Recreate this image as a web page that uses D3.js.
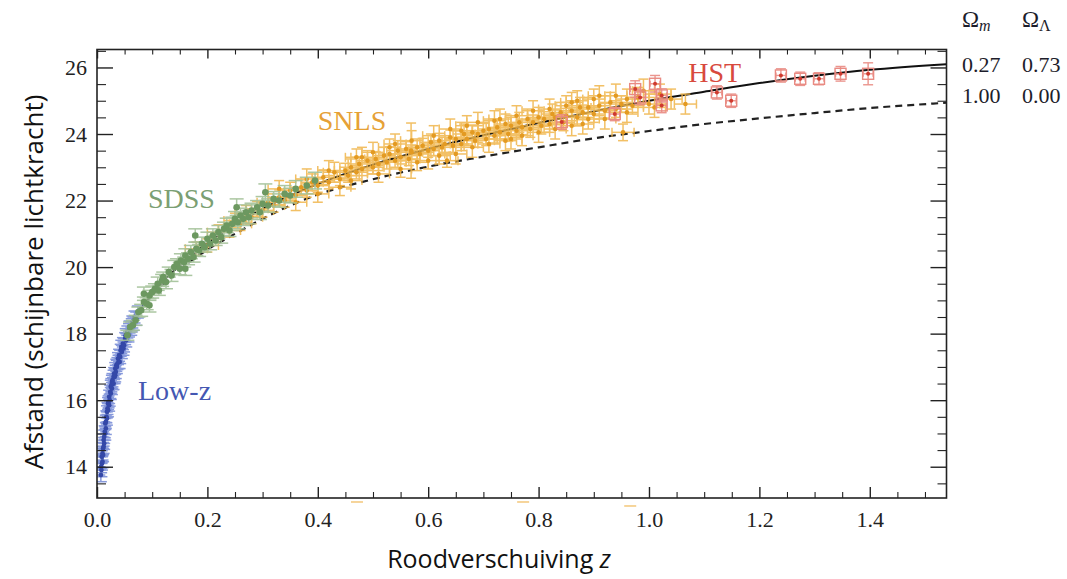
<!DOCTYPE html>
<html><head><meta charset="utf-8">
<script src="https://cdn.jsdelivr.net/npm/d3@7"></script>
<style>body{margin:0;background:#fff} svg{display:block}</style>
</head><body><svg id="c" width="1067" height="579"></svg>
<script>
// ---------- data: [redshift z, apparent magnitude, magnitude error] ----------
const lowZ = [
[0.007,13.75,0.2],[0.0075,14.0,0.18],[0.008,13.9,0.2],[0.0085,14.3,0.18],[0.009,14.1,0.2],[0.010,14.15,0.18],[0.010,14.4,0.2],[0.011,14.55,0.18],[0.011,14.35,0.2],[0.012,14.6,0.2],[0.012,14.8,0.18],[0.013,14.9,0.2],[0.013,14.7,0.18],[0.014,15.05,0.18],[0.015,15.0,0.2],[0.015,15.3,0.18],[0.016,15.35,0.2],[0.016,15.15,0.18],[0.017,15.5,0.18],[0.018,15.45,0.2],[0.018,15.65,0.18],[0.019,15.75,0.18],[0.020,15.7,0.2],[0.020,15.9,0.18],[0.021,15.95,0.18],[0.022,16.1,0.2],[0.022,15.85,0.18],[0.023,16.0,0.18],[0.024,16.25,0.2],[0.025,16.2,0.18],[0.025,16.4,0.2],[0.026,16.45,0.2],[0.027,16.35,0.18],[0.027,16.55,0.2],[0.028,16.6,0.2],[0.029,16.5,0.18],[0.030,16.7,0.2],[0.030,16.5,0.18],[0.031,16.8,0.18],[0.032,16.7,0.2],[0.033,16.95,0.18],[0.033,16.75,0.2],[0.034,16.85,0.2],[0.035,17.05,0.18],[0.036,17.0,0.2],[0.037,17.1,0.18],[0.038,17.25,0.18],[0.039,17.15,0.2],[0.040,17.35,0.18],[0.041,17.15,0.2],[0.042,17.3,0.2],[0.043,17.5,0.18],[0.044,17.6,0.2],[0.045,17.45,0.2],[0.047,17.7,0.18],[0.048,17.55,0.2],[0.049,17.65,0.2],[0.051,17.85,0.18],[0.052,17.95,0.2],[0.053,17.8,0.2],[0.055,18.05,0.18],[0.057,17.95,0.2],[0.058,18.1,0.2],[0.059,18.2,0.18],[0.062,18.15,0.2],[0.063,18.25,0.2],[0.064,18.35,0.18],[0.066,18.3,0.2],[0.068,18.5,0.18],[0.071,18.45,0.2],[0.074,18.65,0.18]
];
const sdss = [
[0.055,17.95,0.15],[0.06,18.2,0.15],[0.065,18.25,0.15],[0.07,18.4,0.15],[0.075,18.65,0.15],[0.08,18.7,0.18],[0.085,18.95,0.15],[0.085,19.2,0.2],[0.09,18.9,0.18],[0.095,19.15,0.15],[0.095,18.85,0.2],[0.1,19.25,0.18],[0.105,19.35,0.15],[0.11,19.5,0.2],[0.112,19.3,0.15],[0.118,19.6,0.18],[0.12,19.7,0.15],[0.125,19.55,0.2],[0.13,19.85,0.15],[0.135,19.75,0.18],[0.14,20.0,0.2],[0.145,20.1,0.15],[0.15,19.95,0.18],[0.152,20.2,0.2],[0.158,20.15,0.15],[0.16,20.35,0.2],[0.16,19.95,0.2],[0.165,20.25,0.18],[0.17,20.45,0.2],[0.175,20.3,0.15],[0.178,20.95,0.2],[0.18,20.55,0.2],[0.185,20.5,0.18],[0.19,20.7,0.2],[0.195,20.6,0.15],[0.2,20.85,0.2],[0.205,20.7,0.18],[0.21,20.95,0.2],[0.215,20.8,0.15],[0.22,21.05,0.2],[0.225,20.9,0.18],[0.23,21.15,0.2],[0.235,21.25,0.22],[0.24,21.1,0.18],[0.245,21.3,0.2],[0.25,21.45,0.22],[0.253,21.8,0.25],[0.255,21.35,0.2],[0.26,21.55,0.22],[0.265,21.45,0.2],[0.27,21.65,0.22],[0.275,21.5,0.2],[0.28,21.7,0.22],[0.29,21.8,0.2],[0.295,21.65,0.22],[0.3,21.9,0.22],[0.305,22.25,0.25],[0.31,21.85,0.2],[0.32,22.05,0.22],[0.33,22.0,0.2],[0.34,22.2,0.25],[0.35,22.15,0.22],[0.36,22.35,0.25],[0.38,22.45,0.25],[0.395,22.6,0.25]
];
const snls = [
[0.18,20.55,0.2],[0.2,20.65,0.2],[0.22,21.05,0.22],[0.24,21.1,0.2],[0.25,21.4,0.22],[0.26,21.3,0.2],[0.27,21.6,0.25],[0.28,21.5,0.2],[0.29,21.75,0.22],[0.3,21.7,0.2],[0.31,21.95,0.25],[0.32,21.85,0.2],[0.33,22.1,0.22],[0.33,22.35,0.25],[0.34,22.0,0.2],[0.35,22.3,0.25],[0.36,22.15,0.2],[0.36,21.95,0.25],[0.37,22.4,0.22],[0.38,22.3,0.2],[0.38,22.65,0.3],[0.39,22.55,0.25],[0.40,22.45,0.2],[0.40,22.2,0.25],[0.41,22.7,0.22],[0.42,22.55,0.2],[0.42,22.9,0.3],[0.43,22.85,0.3],[0.44,22.65,0.2],[0.44,22.4,0.25],[0.45,22.9,0.22],[0.455,22.75,0.2],[0.46,23.0,0.25],[0.46,22.6,0.25],[0.47,22.85,0.2],[0.47,23.3,0.25],[0.475,23.1,0.22],[0.48,22.95,0.2],[0.48,23.3,0.3],[0.49,23.2,0.3],[0.5,23.0,0.2],[0.5,23.45,0.3],[0.505,23.25,0.22],[0.51,23.1,0.2],[0.51,22.8,0.25],[0.52,23.35,0.25],[0.525,23.15,0.2],[0.53,23.4,0.22],[0.53,23.6,0.25],[0.54,23.2,0.2],[0.54,23.7,0.3],[0.545,23.5,0.3],[0.55,23.3,0.2],[0.55,22.95,0.25],[0.56,23.55,0.22],[0.565,23.25,0.2],[0.569,23.5,0.83],[0.57,23.45,0.22],[0.57,23.8,0.3],[0.58,23.6,0.25],[0.58,23.15,0.25],[0.585,23.4,0.2],[0.59,23.65,0.22],[0.6,23.5,0.2],[0.6,23.2,0.25],[0.605,23.75,0.25],[0.61,23.55,0.2],[0.61,23.95,0.3],[0.62,23.8,0.22],[0.62,23.35,0.25],[0.625,23.6,0.2],[0.63,23.7,0.25],[0.634,23.2,0.2],[0.64,23.9,0.22],[0.64,24.15,0.3],[0.645,23.65,0.2],[0.65,23.85,0.25],[0.65,23.4,0.3],[0.66,23.7,0.2],[0.66,24.1,0.25],[0.665,24.0,0.3],[0.67,23.85,0.2],[0.67,24.25,0.3],[0.68,24.05,0.22],[0.68,23.6,0.3],[0.685,23.8,0.2],[0.69,24.0,0.25],[0.69,24.35,0.3],[0.7,24.1,0.22],[0.705,23.85,0.2],[0.71,24.15,0.3],[0.71,23.7,0.25],[0.72,23.95,0.22],[0.72,24.4,0.3],[0.725,24.2,0.25],[0.73,24.05,0.2],[0.73,24.45,0.3],[0.74,24.3,0.3],[0.74,23.8,0.3],[0.745,24.0,0.22],[0.75,24.25,0.25],[0.75,23.85,0.3],[0.76,24.1,0.2],[0.76,24.55,0.3],[0.765,24.35,0.3],[0.77,24.2,0.22],[0.77,23.95,0.3],[0.78,24.45,0.3],[0.785,24.15,0.25],[0.79,24.35,0.22],[0.79,24.7,0.3],[0.8,24.5,0.3],[0.8,24.05,0.3],[0.805,24.25,0.25],[0.81,24.45,0.22],[0.82,24.3,0.25],[0.82,24.75,0.3],[0.825,24.6,0.3],[0.83,24.5,0.22],[0.83,24.15,0.3],[0.84,24.65,0.3],[0.845,24.35,0.25],[0.85,24.55,0.22],[0.85,24.85,0.3],[0.86,24.7,0.3],[0.86,24.95,0.3],[0.86,24.25,0.3],[0.87,24.5,0.25],[0.87,25.0,0.3],[0.875,24.8,0.3],[0.88,24.65,0.22],[0.88,24.3,0.3],[0.89,24.8,0.3],[0.89,24.45,0.3],[0.9,24.6,0.25],[0.9,25.05,0.3],[0.91,24.85,0.3],[0.91,25.15,0.3],[0.92,24.7,0.22],[0.92,24.45,0.3],[0.93,24.95,0.3],[0.94,24.75,0.25],[0.94,25.15,0.35],[0.95,24.9,0.25],[0.953,24.05,0.25],[0.96,25.05,0.3],[0.96,24.65,0.3],[0.97,24.85,0.25],[0.98,25.1,0.3],[0.99,25.3,0.35],[1.0,24.9,0.3],[1.01,24.8,0.3],[1.02,25.2,0.3],[1.04,25.05,0.3],[1.066,24.9,0.3]
];
const hst = [
[0.842,24.36,0.22],[0.938,24.6,0.2],[0.975,25.35,0.25],[0.984,25.1,0.22],[1.011,25.51,0.25],[1.023,25.16,0.2],[1.023,24.86,0.22],[1.123,25.25,0.2],[1.149,25.0,0.2],[1.239,25.76,0.2],[1.274,25.66,0.2],[1.308,25.66,0.18],[1.347,25.81,0.22],[1.397,25.81,0.33]
];
// stray error-bar caps just below the axis
const strayCaps = [[0.471,12.94],[0.772,12.94],[0.966,12.82]];
// model curves
const lcdmZ = [0.007,0.015,0.025,0.04,0.06,0.08,0.1,0.15,0.2,0.25,0.3,0.4,0.5,0.6,0.7,0.8,0.9,1.0,1.1,1.2,1.3,1.4,1.539];
const lcdmM = [13.7,15.1,16.2,17.2,18.1,18.75,19.22,20.05,20.72,21.28,21.75,22.5,23.08,23.55,23.96,24.33,24.68,25.0,25.27,25.53,25.75,25.93,26.1];
const edsZ = [0.007,0.015,0.025,0.04,0.06,0.08,0.1,0.15,0.2,0.25,0.3,0.364,0.4,0.5,0.6,0.7,0.8,0.9,1.0,1.1,1.2,1.3,1.4,1.539];
const edsM = [13.7,15.1,16.2,17.18,18.05,18.7,19.15,19.93,20.52,21.0,21.45,21.95,22.18,22.64,23.02,23.32,23.6,23.87,24.09,24.3,24.47,24.63,24.78,24.94];
const xTicks = [0.0,0.2,0.4,0.6,0.8,1.0,1.2,1.4];
const yTicks = [14,16,18,20,22,24,26];
const tableHead = ["m","Λ"];
const tableRows = [["0.27","0.73"],["1.00","0.00"]];
const seriesLabels = [
  {t:"Low-z", z:0.0743, m:16.0, c:"#4457b2"},
  {t:"SDSS", z:0.0924, m:21.77, c:"#7b9f73"},
  {t:"SNLS", z:0.40, m:24.11, c:"#e6a136"},
  {t:"HST", z:1.071, m:25.57, c:"#d84a3e"}
];

// ---------- drawing ----------
const svg = d3.select('#c');
const M = {l:97, r:946.5, t:49.5, b:498};
const x = d3.scaleLinear().domain([0,1.539]).range([M.l,M.r]);
const y = d3.scaleLinear().domain([13.06,26.54]).range([M.b,M.t]);
const serif = "'Liberation Serif','Times New Roman',serif";
const sans = "'Open Sans','Liberation Sans',sans-serif";

svg.append('defs').append('clipPath').attr('id','clip')
  .append('rect').attr('x',M.l).attr('y',M.t).attr('width',M.r-M.l).attr('height',M.b-M.t);

const plot = svg.append('g').attr('clip-path','url(#clip)');

// model curves
const line = d3.line().x(d=>x(d[0])).y(d=>y(d[1])).curve(d3.curveMonotoneX);
plot.append('path').datum(edsZ.map((z,i)=>[z,edsM[i]]))
  .attr('d',line).attr('fill','none').attr('stroke','#222').attr('stroke-width',2.2).attr('stroke-dasharray','7,5');
plot.append('path').datum(lcdmZ.map((z,i)=>[z,lcdmM[i]]))
  .attr('d',line).attr('fill','none').attr('stroke','#111').attr('stroke-width',2);

function errSeries(data, o){
  const g = plot.append('g');
  const bars = g.append('g').attr('stroke',o.bar).attr('stroke-width',o.sw).attr('opacity',o.op);
  bars.selectAll('.v').data(data).join('line')
    .attr('x1',d=>x(d[0])).attr('x2',d=>x(d[0])).attr('y1',d=>y(d[1]-d[2])).attr('y2',d=>y(d[1]+d[2]));
  [-1,1].forEach(s=>{
    bars.selectAll('.c'+s).data(data).join('line')
      .attr('x1',d=>x(d[0])-o.cap).attr('x2',d=>x(d[0])+o.cap)
      .attr('y1',d=>y(d[1]+s*d[2])).attr('y2',d=>y(d[1]+s*d[2]));
  });
  if (o.zErr){
    bars.selectAll('.h').data(data).join('line')
      .attr('x1',d=>x(d[0]-o.zErr)).attr('x2',d=>x(d[0]+o.zErr)).attr('y1',d=>y(d[1])).attr('y2',d=>y(d[1]));
    if (o.hcap) [-1,1].forEach(s=>{
      bars.selectAll('.hc'+s).data(data).join('line')
        .attr('x1',d=>x(d[0]+s*o.zErr)).attr('x2',d=>x(d[0]+s*o.zErr))
        .attr('y1',d=>y(d[1])-o.hcap).attr('y2',d=>y(d[1])+o.hcap);
    });
  }
  if (o.square){
    g.append('g').selectAll('rect').data(data).join('rect')
      .attr('x',d=>x(d[0])-o.square/2).attr('y',d=>y(d[1])-o.square/2)
      .attr('width',o.square).attr('height',o.square)
      .attr('fill','none').attr('stroke',o.bar).attr('stroke-width',1.4);
  }
  g.append('g').selectAll('circle').data(data).join('circle')
    .attr('cx',d=>x(d[0])).attr('cy',d=>y(d[1])).attr('r',o.r).attr('fill',o.dot);
}
errSeries(lowZ, {bar:'#7b8fd8', dot:'#3448a8', cap:6, r:2.4, op:0.9, sw:1.5, zErr:0.008});
errSeries(snls, {bar:'#f0b54a', dot:'#e39a22', cap:5, r:2.3, op:0.85, sw:1.5, zErr:0.02, hcap:4.5});
errSeries(sdss, {bar:'#a3c198', dot:'#6c9860', cap:7, r:3.3, op:0.9, sw:1.5});
errSeries(hst, {bar:'#e98a82', dot:'#cf3a2e', cap:5, r:2, op:0.9, sw:1.4, zErr:0.009, hcap:3, square:11});

// stray caps under the axis
svg.append('g').selectAll('line').data(strayCaps).join('line')
  .attr('x1',d=>x(d[0])-6).attr('x2',d=>x(d[0])+6).attr('y1',d=>y(d[1])).attr('y2',d=>y(d[1]))
  .attr('stroke','#f3c77a').attr('stroke-width',1.5);

// axes with inward ticks
const major = 1.4, minorW = 1.1;
function axisPair(axisFn, scale, pos, ticks, minor, size, minorSize, fmt, pad){
  const g = svg.append('g').attr('transform',pos);
  g.call(axisFn(scale).tickValues(ticks).tickSizeInner(-size).tickSizeOuter(0).tickPadding(pad).tickFormat(fmt));
  const gm = svg.append('g').attr('transform',pos);
  gm.call(axisFn(scale).tickValues(minor).tickSizeInner(-minorSize).tickSizeOuter(0).tickFormat(''));
  gm.select('.domain').remove();
  g.select('.domain').remove();
  g.selectAll('.tick line').attr('stroke','#222').attr('stroke-width',major);
  gm.selectAll('.tick line').attr('stroke','#222').attr('stroke-width',minorW);
  return g;
}
const xMinor = d3.range(0,31).map(i=>i*0.05).filter(v=>Math.abs(v*5-Math.round(v*5))>1e-6 && v<1.539);
const yMinor = d3.range(13.5,26.6,1).concat(d3.range(15,26,2));
const fX = d3.format('.1f'), fY = d3.format('d');
const gb = axisPair(d3.axisBottom, x, `translate(0,${M.b})`, xTicks, xMinor, 11, 6, fX, 13);
axisPair(d3.axisTop, x, `translate(0,${M.t})`, xTicks, xMinor, 9, 5, '', 3);
const gl = axisPair(d3.axisLeft, y, `translate(${M.l},0)`, yTicks, yMinor, 16, 9, fY, 10);
axisPair(d3.axisRight, y, `translate(${M.r},0)`, yTicks, yMinor, 16, 9, '', 3);
[gb,gl].forEach(g=>g.selectAll('text').attr('font-family',serif).attr('font-size',22).attr('fill','#222'));

// frame
svg.append('rect').attr('x',M.l).attr('y',M.t).attr('width',M.r-M.l).attr('height',M.b-M.t)
  .attr('fill','none').attr('stroke','#222').attr('stroke-width',1.6);

// series labels
svg.append('g').selectAll('text').data(seriesLabels).join('text')
  .attr('x',d=>x(d.z)).attr('y',d=>y(d.m)).text(d=>d.t)
  .attr('fill',d=>d.c).attr('font-family',serif).attr('font-size',28);

// axis titles
svg.append('text').attr('x',499).attr('y',568).attr('text-anchor','middle')
  .attr('font-family',sans).attr('font-size',25).attr('fill','#111')
  .call(t=>{t.append('tspan').text('Roodverschuiving '); t.append('tspan').attr('font-style','italic').text('z');});
svg.append('text').attr('transform','translate(43,282) rotate(-90)').attr('text-anchor','middle')
  .attr('font-family',sans).attr('font-size',26).attr('fill','#111')
  .text('Afstand (schijnbare lichtkracht)');

// parameter table
const colX = [962, 1022];
const tbl = svg.append('g').attr('font-family',serif).attr('fill','#1d1d2b');
tableHead.forEach((h,i)=>{
  const t = tbl.append('text').attr('x',colX[i]).attr('y',27).attr('font-size',23);
  t.append('tspan').text('Ω');
  t.append('tspan').attr('font-size',16).attr('dy',4).attr('font-style',i===0?'italic':'normal').text(h);
});
tableRows.forEach((r,j)=>{
  r.forEach((v,i)=>{
    tbl.append('text').attr('x',colX[i]).attr('y',[72,103][j]).attr('font-size',22).text(v);
  });
});
</script></body></html>
